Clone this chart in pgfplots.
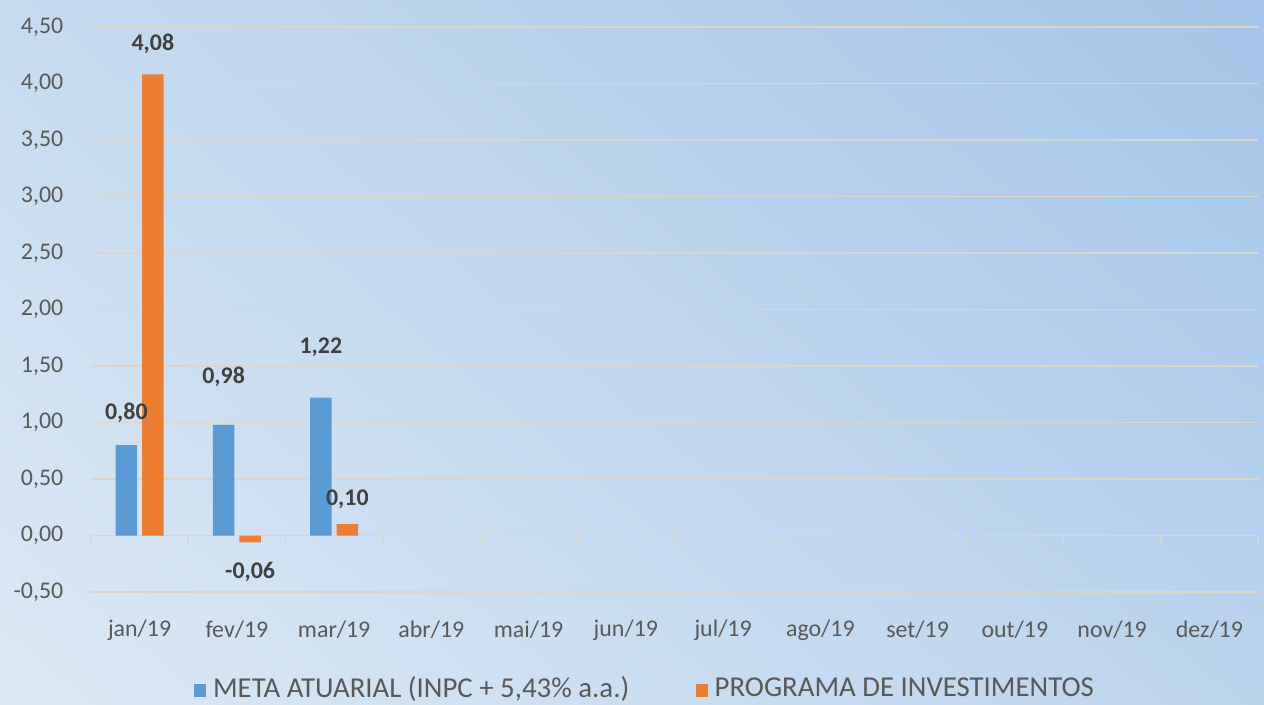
\documentclass[border=0pt]{standalone}
\usepackage{fontspec}
\setmainfont{Carlito}
\usepackage{pgfplots}
\usepackage{pgfplotstable}
\usetikzlibrary{shadings}
\pgfplotsset{compat=1.18}

\definecolor{meta}{HTML}{5B9BD5}
\definecolor{prog}{HTML}{ED7D31}
\definecolor{gridc}{HTML}{DCD5CA}
\definecolor{txt}{HTML}{595959}
\definecolor{lbl}{HTML}{404040}
\definecolor{bgUL}{HTML}{C6DBF0}
\definecolor{bgUR}{HTML}{A4C5E8}
\definecolor{bgLL}{HTML}{DCE9F6}
\definecolor{bgLR}{HTML}{BBD4EE}

% month index, value, label offset (pt)
\pgfplotstableread{
x y dy
0 0.80 9.1
1 0.98 13.7
2 1.22 14.2
}\metatab
\pgfplotstableread{
x y dy
0 4.08 8.8
1 -0.06 -8.5
2 0.10 7.1
}\progtab

\begin{document}
\begin{tikzpicture}
\shade[upper left=bgUL, upper right=bgUR, lower left=bgLL, lower right=bgLR]
  (0,0) rectangle (126.4mm,70.4mm);
\begin{axis}[
    at={(9.1mm,11.2mm)}, anchor=south west,
    scale only axis,
    width=116.7mm, height=56.5mm,
    ybar=0.5mm,
    bar width=2.15mm,
    xmin=-0.5, xmax=11.5,
    ymin=-0.5, ymax=4.5,
    xtick={0,...,11},
    xticklabels={jan/19,fev/19,mar/19,abr/19,mai/19,jun/19,jul/19,ago/19,set/19,out/19,nov/19,dez/19},
    ytick={-0.5,0,...,4.5},
    major tick length=0pt,
    axis line style={draw=none},
    ymajorgrids=true,
    grid style={draw=gridc, line width=0.55pt},
    /pgf/number format/assume math mode=true,
    /pgf/number format/.cd, fixed, fixed zerofill, precision=2, use comma,
    /pgfplots/.cd,
    tick label style={font=\fontsize{6.8}{8}\selectfont, text=txt},
    yticklabel style={anchor=east, inner sep=0pt, xshift=-7.7pt},
    xticklabel style={anchor=center, inner sep=0pt, yshift=-10.8pt},
    nodes near coords,
    visualization depends on={\thisrow{dy}\as\dy},
    nodes near coords style={anchor=center, yshift=\dy pt,
        font=\fontsize{6.8}{8}\selectfont\bfseries, text=lbl},
    legend style={at={(0.477,-0.173)}, anchor=center, draw=none, fill=none,
        legend columns=2, font=\fontsize{8.2}{9}\selectfont, text=txt,
        /tikz/every even column/.append style={column sep=17pt}},
    legend image code/.code={\fill[#1] (0pt,-2.2pt) rectangle (3.3pt,1.5pt);},
    clip=false,
]
\addplot[fill=meta, draw=none] table[x=x, y=y] {\metatab};
\addplot[fill=prog, draw=none] table[x=x, y=y] {\progtab};
\legend{{META ATUARIAL (INPC + 5,43\% a.a.)}, {PROGRAMA DE INVESTIMENTOS}}
\pgfplotsinvokeforeach{-0.5,0.5,...,11.5}{
  \draw[gridc, line width=0.55pt] (axis cs:#1,0) -- ([yshift=-0.7mm]axis cs:#1,0);
}
\end{axis}
\pgfresetboundingbox
\path (0,0) rectangle (126.4mm,70.4mm);
\end{tikzpicture}
\end{document}
